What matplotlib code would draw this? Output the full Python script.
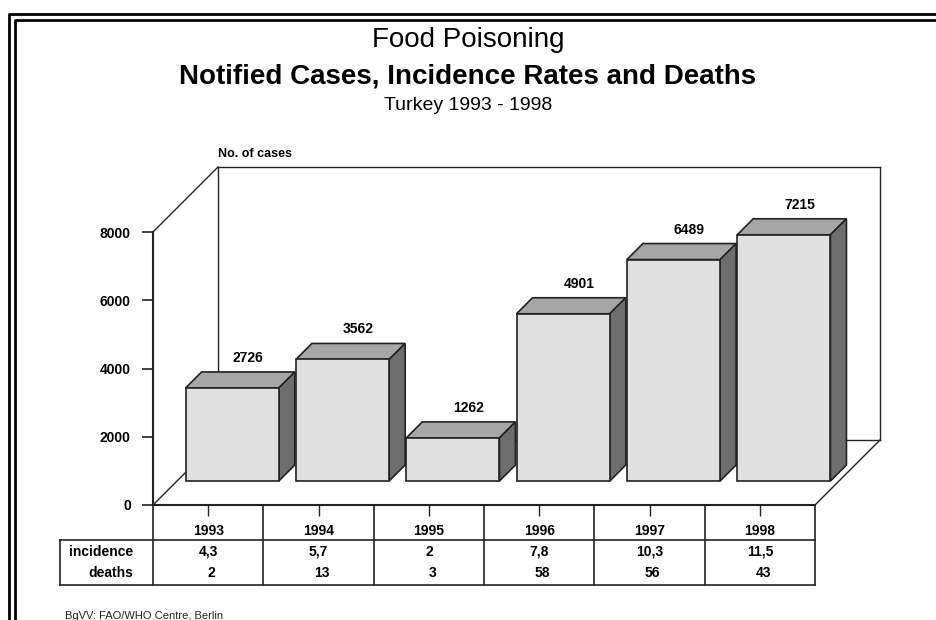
import matplotlib
matplotlib.use("Agg")
import matplotlib.pyplot as plt
import matplotlib.transforms as mtransforms
from matplotlib.lines import Line2D
from matplotlib.patches import Polygon

plt.rcParams['font.family'] = ['Liberation Sans', 'DejaVu Sans']

years = ['1993', '1994', '1995', '1996', '1997', '1998']
cases = [2726, 3562, 1262, 4901, 6489, 7215]
incidence = ['4,3', '5,7', '2', '7,8', '10,3', '11,5']
deaths = [2, 13, 3, 58, 56, 43]
yticks = [0, 2000, 4000, 6000, 8000]

W, H = 936, 620
fig = plt.figure(figsize=(W / 100, H / 100), dpi=100)

# front box of the plot in pixels (measured from top-left)
X0, X1, Y0, Y1 = 153, 815, 505, 232
YMAX = 8000
n = len(years)
ax = fig.add_axes([X0 / W, 1 - Y0 / H, (X1 - X0) / W, (Y0 - Y1) / H])
ax.set_xlim(0, n)
ax.set_ylim(0, YMAX)

px_x = (X1 - X0) / n
px_y = (Y0 - Y1) / YMAX


def depth(px):
    # pseudo 3d: move px pixels right and up
    return px / px_x, px / px_y


EDGE = '#222222'
WALL = 65
BAR_FRONT, BAR_BACK = 24, 40
BAR_W = 0.845

# walls / floor outline
wdx, wdy = depth(WALL)
wall_lines = [
    ([0, wdx], [0, wdy]),
    ([0, wdx], [YMAX, YMAX + wdy]),
    ([wdx, wdx], [wdy, YMAX + wdy]),
    ([wdx, n + wdx], [YMAX + wdy, YMAX + wdy]),
    ([n + wdx, n + wdx], [wdy, YMAX + wdy]),
    ([wdx, n + wdx], [wdy, wdy]),
    ([n, n + wdx], [0, wdy]),
]
for xs, ys in wall_lines:
    ax.plot(xs, ys, color=EDGE, lw=1.0, clip_on=False, zorder=1)

# bars
fdx, fdy = depth(BAR_FRONT)
bdx, bdy = depth(BAR_BACK)
centers = [i + 0.5 for i in range(n)]
ax.bar([c + fdx for c in centers], cases, width=BAR_W, bottom=fdy,
       color='#e0e0e0', edgecolor=EDGE, linewidth=1.2, zorder=3, clip_on=False)
for c, v in zip(centers, cases):
    xl, xr = c - BAR_W / 2, c + BAR_W / 2
    top = Polygon([(xl + fdx, v + fdy), (xr + fdx, v + fdy),
                   (xr + bdx, v + bdy), (xl + bdx, v + bdy)],
                  closed=True, facecolor='#a6a6a6', edgecolor=EDGE, lw=1.2,
                  zorder=2.5, clip_on=False)
    side = Polygon([(xr + fdx, fdy), (xr + bdx, bdy),
                    (xr + bdx, v + bdy), (xr + fdx, v + fdy)],
                   closed=True, facecolor='#6e6e6e', edgecolor=EDGE, lw=1.2,
                   zorder=2.5, clip_on=False)
    ax.add_patch(top)
    ax.add_patch(side)
    ax.text(c + bdx, v + bdy + 10 / px_y, str(v), ha='center', va='baseline',
            fontsize=10, fontweight='bold', zorder=5)

# axes styling
for s in ['top', 'right']:
    ax.spines[s].set_visible(False)
for s in ['left', 'bottom']:
    ax.spines[s].set_linewidth(1.5)
    ax.spines[s].set_color(EDGE)
ax.patch.set_visible(False)
ax.set_yticks(yticks)
ax.set_yticklabels([str(t) for t in yticks], fontsize=10, fontweight='bold')
ax.tick_params(axis='y', direction='out', length=8, width=1.2, pad=8, colors=EDGE)
ax.set_xticks(centers)
ax.set_xticklabels(years, fontsize=10, fontweight='bold')
ax.tick_params(axis='x', direction='out', length=8, width=1.0, pad=6, colors=EDGE)
for lab in ax.get_xticklabels() + ax.get_yticklabels():
    lab.set_color('black')

ax.text((218 - X0) / px_x, YMAX + (Y1 - 157) / px_y, 'No. of cases',
        ha='left', va='baseline', fontsize=9, fontweight='bold')

# data table under the axis
tr = mtransforms.blended_transform_factory(ax.transData, ax.transAxes)


def fy(py):
    return (Y0 - py) / (Y0 - Y1)


xleft = (60 - X0) / px_x
tl = dict(transform=tr, color=EDGE, lw=1.2, clip_on=False)
ax.add_line(Line2D([xleft, n], [fy(540), fy(540)], **tl))
ax.add_line(Line2D([xleft, n], [fy(585), fy(585)], **tl))
ax.add_line(Line2D([xleft, xleft], [fy(540), fy(585)], **tl))
for i in range(n + 1):
    ax.add_line(Line2D([i, i], [fy(505), fy(585)], **tl))

xlab = (133 - X0) / px_x
ax.text(xlab, fy(552), 'incidence', transform=tr, ha='right', va='center',
        fontsize=10, fontweight='bold')
ax.text(xlab, fy(573), 'deaths', transform=tr, ha='right', va='center',
        fontsize=10, fontweight='bold')
for c, inc, d in zip(centers, incidence, deaths):
    ax.text(c, fy(552), inc, transform=tr, ha='center', va='center',
            fontsize=10, fontweight='bold')
    ax.text(c + 0.03, fy(573), str(d), transform=tr, ha='center', va='center',
            fontsize=10, fontweight='bold')

# titles
fig.text(468 / W, 1 - 47 / H, 'Food Poisoning', ha='center', va='baseline', fontsize=20)
fig.text(468 / W, 1 - 83 / H, 'Notified Cases, Incidence Rates and Deaths',
         ha='center', va='baseline', fontsize=20, fontweight='bold')
fig.text(468 / W, 1 - 110 / H, 'Turkey 1993 - 1998', ha='center', va='baseline', fontsize=14)
fig.text(65 / W, 1 - 619 / H, 'BgVV: FAO/WHO Centre, Berlin', ha='left',
         va='baseline', fontsize=8, color='#222222')

# double frame around the slide
for off in (9, 15):
    fig.add_artist(Line2D([off / W, off / W, 1], [0, 1 - (off + 5) / H, 1 - (off + 5) / H],
                          transform=fig.transFigure, color='black', lw=2.0))

fig.savefig('out.png', dpi=100)
